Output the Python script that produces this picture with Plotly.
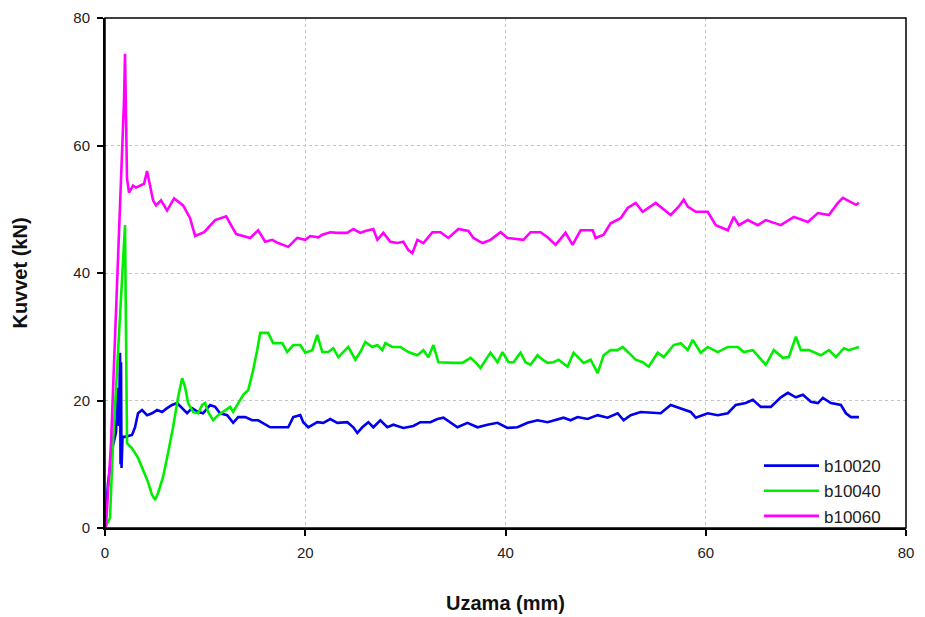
import plotly.graph_objects as go

# b10020 (blue)
x_b20 = [0.0, 0.3, 0.8, 1.1, 1.3, 1.4, 1.5, 1.55, 1.6, 1.65, 1.75, 2.0, 2.7, 3.0, 3.3, 3.7, 4.2, 4.7, 5.2, 5.7,
         6.2, 6.7, 7.2, 7.7, 8.2, 8.7, 9.3, 9.8, 10.5, 11.0, 11.5, 12.2, 12.8, 13.3, 14.0, 14.7, 15.3,
         16.5, 17.5, 18.3, 18.8, 19.5, 19.8, 20.3, 21.2, 21.8, 22.5, 23.2, 24.2, 24.8, 25.2, 25.7, 26.3,
         26.8, 27.5, 28.2, 28.8, 29.8, 30.8, 31.5, 32.5, 33.2, 33.8, 34.5, 35.2, 36.2, 37.2, 38.2, 39.2,
         40.2, 41.2, 42.2, 43.2, 44.2, 44.8, 45.8, 46.5, 47.2, 48.2, 49.2, 50.2, 51.2, 51.8, 52.5, 53.5,
         55.5, 56.5, 57.5, 58.5, 59.0, 60.2, 61.2, 62.2, 63.0, 64.0, 64.7, 65.5, 66.5, 67.5, 68.2, 69.0,
         69.7, 70.5, 71.2, 71.7, 72.5, 73.5, 74.0, 74.5, 75.3]
y_b20 = [0.0, 7.0, 13.0, 15.0, 22.0, 16.0, 27.5, 10.0, 26.0, 9.4, 14.3, 14.3, 14.6, 15.8, 18.0, 18.5, 17.7, 18.0, 18.5, 18.2,
         18.8, 19.3, 19.6, 18.8, 18.0, 18.8, 18.2, 18.0, 19.3, 19.0, 18.0, 17.7, 16.5, 17.4, 17.4, 16.9, 16.9,
         15.8, 15.8, 15.8, 17.4, 17.7, 16.6, 15.8, 16.6, 16.5, 17.1, 16.5, 16.6, 15.8, 14.9, 15.8, 16.6,
         15.8, 16.9, 15.8, 16.2, 15.7, 16.0, 16.6, 16.6, 17.1, 17.3, 16.5, 15.8, 16.5, 15.8, 16.2, 16.5,
         15.7, 15.8, 16.5, 16.9, 16.6, 16.9, 17.3, 16.9, 17.4, 17.1, 17.7, 17.3, 18.0, 16.9, 17.7, 18.2,
         18.0, 19.3, 18.8, 18.2, 17.3, 18.0, 17.7, 18.0, 19.3, 19.6, 20.1, 19.0, 19.0, 20.5, 21.2, 20.5,
         20.9, 19.8, 19.6, 20.4, 19.6, 19.3, 18.0, 17.4, 17.4]

# b10040 (green)
x_b40 = [0.0, 0.5, 0.8, 1.2, 1.5, 1.9, 2.0, 2.1, 2.2, 2.7, 3.3, 3.8, 4.3, 4.7, 5.0, 5.3, 5.8, 6.3, 6.8, 7.3,
         7.7, 8.0, 8.3, 8.8, 9.3, 9.7, 10.0, 10.3, 10.8, 11.3, 12.0, 12.5, 12.8, 13.3, 13.8, 14.3, 14.8,
         15.2, 15.5, 16.3, 16.8, 17.7, 18.2, 18.8, 19.5, 20.0, 20.7, 21.2, 21.7, 22.3, 22.8, 23.3, 23.8,
         24.3, 25.0, 25.5, 26.0, 26.7, 27.2, 27.7, 28.0, 28.7, 29.5, 30.3, 31.2, 31.8, 32.3, 32.8, 33.3,
         34.2, 34.8, 35.7, 36.5, 37.0, 37.5, 38.2, 38.5, 39.2, 39.7, 40.3, 40.8, 41.5, 42.0, 42.5, 43.2,
         43.7, 44.2, 44.8, 45.3, 46.2, 46.8, 47.3, 47.8, 48.5, 49.2, 49.8, 50.5, 51.2, 51.7, 52.3, 53.0,
         53.7, 54.3, 55.2, 55.8, 56.8, 57.5, 58.2, 58.7, 59.5, 60.2, 61.2, 62.2, 63.2, 63.8, 64.7, 65.3,
         66.0, 66.8, 67.7, 68.3, 69.0, 69.5, 70.3, 71.5, 72.3, 73.0, 73.8, 74.3, 75.3]
y_b40 = [0.0, 1.6, 13.3, 25.1, 34.0, 43.6, 47.5, 30.0, 13.3, 12.5, 11.0, 9.1, 7.2, 5.2, 4.4, 5.5, 8.0, 11.8, 15.8, 20.5,
         23.5, 22.1, 19.6, 18.2, 18.0, 19.3, 19.6, 18.2, 16.9, 17.7, 18.5, 19.0, 18.2, 19.6, 20.9, 21.6, 24.8,
         27.9, 30.6, 30.6, 29.0, 29.0, 27.6, 28.7, 28.7, 27.5, 27.9, 30.3, 27.6, 27.6, 28.2, 26.8, 27.6,
         28.4, 26.4, 27.6, 29.2, 28.4, 28.7, 27.9, 29.0, 28.4, 28.4, 27.6, 27.1, 27.9, 26.8, 28.7, 26.0,
         25.9, 25.9, 25.9, 26.7, 26.0, 25.1, 26.8, 27.5, 26.0, 27.6, 26.0, 26.0, 27.5, 26.0, 25.6, 27.1,
         26.4, 25.9, 26.0, 26.4, 25.3, 27.5, 26.7, 25.9, 26.4, 24.3, 27.1, 27.9, 27.9, 28.4, 27.5, 26.4,
         26.0, 25.3, 27.5, 26.8, 28.7, 29.0, 27.9, 29.5, 27.5, 28.4, 27.6, 28.4, 28.4, 27.6, 27.9, 26.8,
         25.6, 27.9, 26.7, 26.8, 30.0, 27.9, 27.9, 27.1, 27.9, 26.8, 28.2, 27.9, 28.4]

# b10060 (magenta)
x_b60 = [0.0, 0.1, 0.6, 1.0, 1.2, 1.5, 1.7, 1.9, 2.0, 2.2, 2.4, 2.8, 3.1, 3.9, 4.2, 4.8, 5.1, 5.6, 6.2, 6.9,
         7.8, 8.5, 9.0, 9.9, 11.0, 12.1, 13.1, 14.5, 15.3, 16.0, 16.7, 17.3, 18.3, 19.2, 20.0, 20.5, 21.3,
         21.7, 22.5, 23.2, 24.2, 24.8, 25.5, 26.0, 26.8, 27.2, 27.8, 28.5, 29.2, 29.8, 30.3, 30.7, 31.2,
         31.8, 32.7, 33.5, 34.3, 35.3, 36.3, 36.8, 37.7, 38.5, 39.5, 40.2, 41.8, 42.5, 43.5, 44.2, 45.0,
         46.0, 46.7, 47.5, 48.7, 49.0, 49.8, 50.5, 51.5, 52.2, 53.0, 53.7, 55.0, 56.5, 57.3, 57.8, 58.2,
         59.0, 60.2, 61.0, 62.2, 62.8, 63.3, 64.2, 65.2, 66.0, 67.5, 68.8, 70.2, 71.2, 72.3, 73.2, 73.7,
         74.5, 75.0, 75.3]
y_b60 = [0.0, 0.5, 13.3, 29.0, 36.9, 50.9, 59.3, 67.1, 74.4, 54.8, 52.6, 53.7, 53.4, 54.0, 56.0, 51.4, 50.6, 51.4, 49.8, 51.7,
         50.6, 48.6, 45.8, 46.4, 48.3, 48.9, 46.1, 45.5, 46.7, 44.9, 45.2, 44.7, 44.1, 45.5, 45.2, 45.8, 45.6,
         46.0, 46.4, 46.3, 46.3, 46.9, 46.3, 46.6, 46.9, 45.2, 46.3, 44.9, 44.7, 44.9, 43.6, 43.1, 45.2,
         44.7, 46.4, 46.4, 45.5, 46.9, 46.6, 45.5, 44.7, 45.2, 46.4, 45.5, 45.2, 46.4, 46.4, 45.6, 44.4,
         46.3, 44.4, 46.7, 46.7, 45.5, 46.0, 47.8, 48.6, 50.2, 51.0, 49.6, 51.0, 49.1, 50.4, 51.5, 50.4,
         49.6, 49.6, 47.5, 46.7, 48.8, 47.5, 48.3, 47.5, 48.3, 47.5, 48.8, 48.0, 49.4, 49.1, 51.0, 51.8,
         51.1, 50.7, 51.0]

x_ticks = [0, 20, 40, 60, 80]
y_ticks = [0, 20, 40, 60, 80]

fig = go.Figure()
for name, xs, ys, col in [("b10020", x_b20, y_b20, "#0000ee"),
                          ("b10040", x_b40, y_b40, "#00ee00"),
                          ("b10060", x_b60, y_b60, "#ff00ff")]:
    fig.add_trace(go.Scatter(x=xs, y=ys, mode="lines", name=name,
                             line=dict(color=col, width=2.6)))

axis_common = dict(
    showline=True, linecolor="black", linewidth=2,
    ticks="outside", ticklen=6, tickwidth=2, tickcolor="black",
    showgrid=True, gridcolor="#c4c4c4", griddash="dot", gridwidth=1,
    zeroline=False, automargin=False,
    tickfont=dict(family="Liberation Sans, Arial", size=15, color="#222222"),
)
fig.update_xaxes(range=[0, 80], tickvals=x_ticks, ticklabelstandoff=4, **axis_common,
                 title=dict(text="<b>Uzama (mm)</b>", standoff=36,
                            font=dict(family="Liberation Sans, Arial", size=20, color="#111111")))
fig.update_yaxes(range=[0, 80], tickvals=y_ticks, ticklabelstandoff=4, **axis_common,
                 title=dict(text="<b>Kuvvet (kN)</b>", standoff=40,
                            font=dict(family="Liberation Sans, Arial", size=20, color="#111111")))

fig.add_shape(type="rect", xref="paper", yref="paper", x0=0, y0=0, x1=1, y1=1,
              line=dict(color="black", width=1.5), layer="above")

fig.update_layout(
    width=925, height=617,
    margin=dict(l=97, r=27, t=10, b=97),
    plot_bgcolor="white", paper_bgcolor="white",
    showlegend=True,
    legend=dict(x=0.975, y=-0.012, xanchor="right", yanchor="bottom",
                bgcolor="rgba(0,0,0,0)", itemwidth=55,
                font=dict(family="Liberation Sans, Arial", size=17, color="#222222"),
                tracegroupgap=0),
)

fig.write_html("out.html")
